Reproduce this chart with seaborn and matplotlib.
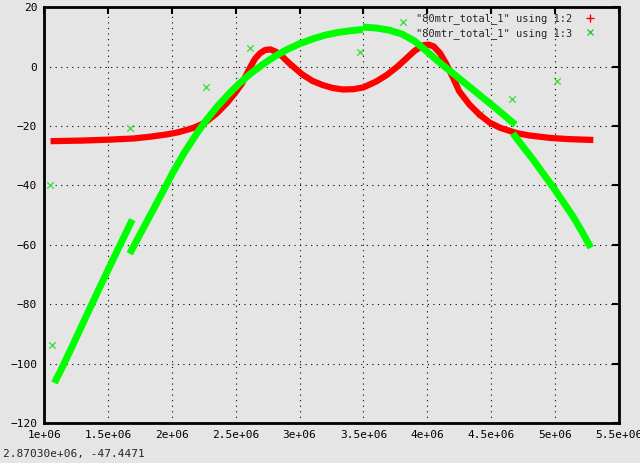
import numpy as np
import pandas as pd
import seaborn as sns
import matplotlib.pyplot as plt
from matplotlib.lines import Line2D

# values (x in units of 1e6)
red_x = [1.05, 1.3, 1.5, 1.7, 1.83, 1.95, 2.04, 2.1, 2.17, 2.23, 2.27, 2.35, 2.43, 2.5, 2.55,
         2.61, 2.65, 2.69, 2.73, 2.77, 2.81, 2.85, 2.92, 3.02, 3.1, 3.18, 3.26, 3.34, 3.42,
         3.5, 3.6, 3.68, 3.76, 3.84, 3.9, 3.97, 4.01, 4.05, 4.1, 4.15, 4.2, 4.25, 4.33,
         4.41, 4.49, 4.57, 4.65, 4.7, 4.8, 4.96, 5.1, 5.3]
red_y = [-25.1, -24.9, -24.6, -24.2, -23.6, -22.9, -22.2, -21.5, -20.6, -19.5, -18.5, -15.8,
         -12.3, -8.6, -5.6, -0.5, 2.6, 4.5, 5.6, 5.8, 5.1, 4.0, 1.1, -2.6, -4.8, -6.2, -7.2,
         -7.7, -7.6, -7.0, -5.0, -2.9, -0.2, 2.9, 5.3, 7.2, 7.4, 6.8, 4.5, 0.8, -3.6, -8.3,
         -12.8, -16.2, -18.9, -20.6, -21.7, -22.4, -23.2, -24.0, -24.4, -24.7]

green_seg1_x = [1.08, 1.13, 1.2, 1.28, 1.36, 1.44, 1.52, 1.59, 1.64, 1.69]
green_seg1_y = [-106.5, -102.3, -96.0, -88.6, -81.2, -73.9, -66.7, -60.4, -56.0, -51.5]

green_seg2_x = [1.67, 1.75, 1.85, 1.93, 2.01, 2.1, 2.2, 2.27, 2.35, 2.45, 2.53, 2.62,
                2.72, 2.82, 2.9, 3.0, 3.1, 3.2, 3.3, 3.4, 3.495]
green_seg2_y = [-63.0, -56.5, -48.5, -42.0, -35.5, -28.8, -22.2, -18.0, -13.7, -9.0, -5.6,
                -2.2, 1.0, 3.8, 5.7, 7.7, 9.3, 10.6, 11.5, 12.1, 12.5]

green_seg3_x = [3.495, 3.6, 3.7, 3.8, 3.9, 4.0, 4.07, 4.15, 4.25, 4.35, 4.45, 4.55, 4.69]
green_seg3_y = [13.3, 13.0, 12.3, 11.0, 8.6, 5.0, 2.3, -0.5, -4.0, -7.5, -11.0, -14.5, -19.6]

green_seg4_x = [4.67, 4.75, 4.83, 4.9, 4.98, 5.06, 5.14, 5.21, 5.28]
green_seg4_y = [-22.5, -27.0, -31.4, -35.6, -40.3, -45.3, -50.4, -55.5, -61.0]

green_out_x = [1.047, 1.06, 1.672, 2.267, 2.611, 3.47, 3.81, 4.41, 4.66, 5.013]
green_out_y = [-40.0, -93.8, -20.8, -6.9, 6.2, 4.8, 15.1, -15.9, -11.0, -4.7]

x_ticks = [1.0, 1.5, 2.0, 2.5, 3.0, 3.5, 4.0, 4.5, 5.0, 5.5]
x_labels = ["1e+06", "1.5e+06", "2e+06", "2.5e+06", "3e+06", "3.5e+06", "4e+06",
            "4.5e+06", "5e+06", "5.5e+06"]
y_ticks = [-120, -100, -80, -60, -40, -20, 0, 20]

legend_labels = ['"80mtr_total_1" using 1:2', '"80mtr_total_1" using 1:3']

bg = "#e5e5e5"
red = "#ff0000"
green = "#00ff00"

sns.set_style("white")
plt.rcParams["font.family"] = ["DejaVu Sans Mono", "DejaVu Sans"]

fig = plt.figure(figsize=(6.4, 4.63), dpi=100, facecolor=bg)
ax = fig.add_axes([0.069, 0.0864, 0.898, 0.898])
ax.set_facecolor(bg)

red_df = pd.DataFrame({"x": red_x, "y": red_y})
sns.lineplot(data=red_df, x="x", y="y", sort=False, color=red, linewidth=4.5, ax=ax,
             solid_capstyle="butt")

for sx, sy in [(green_seg1_x, green_seg1_y), (green_seg2_x, green_seg2_y),
               (green_seg3_x, green_seg3_y), (green_seg4_x, green_seg4_y)]:
    df = pd.DataFrame({"x": sx, "y": sy})
    sns.lineplot(data=df, x="x", y="y", sort=False, color=green, linewidth=5, ax=ax,
                 solid_capstyle="butt")

out_df = pd.DataFrame({"x": green_out_x, "y": green_out_y})
sns.scatterplot(data=out_df, x="x", y="y", marker="x", color="#33dd33", s=22,
                linewidth=0.9, ax=ax)

ax.set_xlim(1.0, 5.5)
ax.set_ylim(-120, 20)
ax.set_xticks(x_ticks)
ax.set_xticklabels(x_labels)
ax.set_yticks(y_ticks)
ax.set_xlabel("")
ax.set_ylabel("")
ax.grid(True, color="black", linestyle=(0, (1, 4)), linewidth=0.8)
for s in ax.spines.values():
    s.set_color("black")
    s.set_linewidth(2)
ax.tick_params(direction="in", length=5, width=1.5, top=True, right=True,
               labelsize=8, colors="black", pad=5)

handles = [Line2D([], [], linestyle="none", marker="+", color=red, markersize=6),
           Line2D([], [], linestyle="none", marker="x", color="#33cc33", markersize=5)]
ax.legend(handles, legend_labels, loc="upper right", bbox_to_anchor=(0.967, 0.99),
          frameon=False, markerfirst=False, fontsize=7.5, handlelength=1.5,
          borderaxespad=0.0, labelspacing=0.35, handletextpad=1.0, borderpad=0.2)

fig.text(0.004, 0.012, "2.87030e+06, -47.4471", fontsize=8)

fig.savefig("out.png", dpi=100, facecolor=bg)
